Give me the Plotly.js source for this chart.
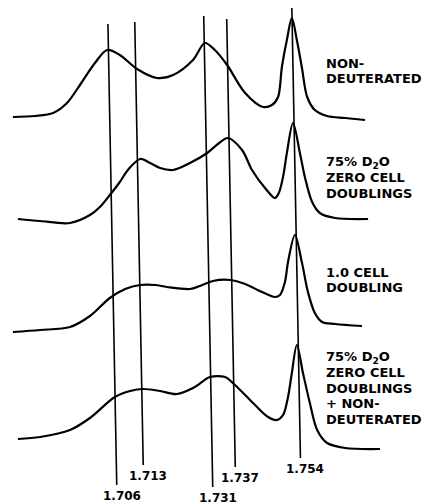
<!DOCTYPE html>
<html>
<head>
<meta charset="utf-8">
<script src="https://cdn.plot.ly/plotly-3.0.1.min.js"></script>
<style>html,body{margin:0;padding:0;background:#fff;}#chart{width:430px;height:504px;}</style>
</head>
<body>
<div id="chart"></div>
<script>
// Buoyant density (g/cm3) profiles, absorbance in arbitrary units (stacked)
var nonDeutX = [1.6812,1.6870,1.6917,1.6953,1.6987,1.7026,1.7058,1.7091,1.7136,1.7188,1.7230,1.7282,1.7313,1.7339,1.7371,1.7418,1.7465,1.7488,1.7504,1.7514,1.7527,1.7540,1.7553,1.7566,1.7580,1.7600,1.7632,1.7679,1.7731];
var nonDeutY = [387,388,391,401,419,441,454,449,435,426,429,444,461,454,439,411,397,399,407,437,464,486,464,437,407,394,388,386,384];

var zeroDoubX = [1.6825,1.6883,1.6961,1.7013,1.7039,1.7065,1.7091,1.7112,1.7144,1.7170,1.7196,1.7230,1.7274,1.7319,1.7347,1.7373,1.7410,1.7436,1.7470,1.7496,1.7506,1.7517,1.7527,1.7543,1.7561,1.7574,1.7593,1.7613,1.7653,1.7739];
var zeroDoubY = [285,283,281,289,297,309,322,334,345,341,336,334,341,351,360,366,354,334,316,306,311,327,351,381,351,327,302,291,286,285];

var oneDoubX = [1.6812,1.6883,1.6961,1.7013,1.7065,1.7105,1.7144,1.7183,1.7214,1.7274,1.7300,1.7334,1.7379,1.7418,1.7462,1.7496,1.7509,1.7522,1.7530,1.7548,1.7566,1.7582,1.7600,1.7619,1.7653,1.7723];
var oneDoubY = [172,174,177,188,206,215,219,219,217,215,218,223,224,220,212,207,209,222,242,269,242,212,191,182,180,178];

var mixX = [1.6825,1.6883,1.6961,1.7013,1.7078,1.7118,1.7152,1.7196,1.7240,1.7287,1.7326,1.7366,1.7386,1.7418,1.7444,1.7478,1.7501,1.7517,1.7530,1.7540,1.7553,1.7569,1.7587,1.7606,1.7632,1.7679,1.7770];
var mixY = [65,67,74,86,107,113,115,113,110,117,127,127,121,109,99,87,84,89,107,131,159,131,101,74,61,56,55];

// Reference density markers
var markerDensities = [1.706, 1.713, 1.731, 1.737, 1.754];
var markerLabels = ["1.706", "1.713", "1.731", "1.737", "1.754"];
var markerTop = [480, 482, 488, 485, 496];
var markerBottom = [19, 39, 17, 37, 46];

// Curve labels
var curveLabels = [
  ["NON-", "DEUTERATED"],
  ["75% D<sub>2</sub>O", "ZERO CELL", "DOUBLINGS"],
  ["1.0 CELL", "DOUBLING"],
  ["75% D<sub>2</sub>O", "ZERO CELL", "DOUBLINGS", "+ NON-", "DEUTERATED"]
];
var curveLabelY = [441, 342, 232, 147];
var curveLabelX = 1.7624;

var skew = 0.0023; // scan tilt of the drawing
var lineSpacing = 15.5;

var traces = [];
var curves = [[nonDeutX, nonDeutY], [zeroDoubX, zeroDoubY], [oneDoubX, oneDoubY], [mixX, mixY]];
curves.forEach(function (c) {
  traces.push({
    x: c[0], y: c[1], type: 'scatter', mode: 'lines',
    line: {color: '#000', width: 2.2, shape: 'spline', smoothing: 0.9},
    hoverinfo: 'skip'
  });
});
markerDensities.forEach(function (d, i) {
  traces.push({
    x: [d, d + skew * (markerTop[i] - markerBottom[i]) / 461],
    y: [markerTop[i], markerBottom[i]],
    type: 'scatter', mode: 'lines',
    line: {color: '#000', width: 1.6},
    hoverinfo: 'skip'
  });
});

var annotations = [];
markerDensities.forEach(function (d, i) {
  annotations.push({
    x: d + skew * (markerTop[i] - markerBottom[i]) / 461, y: markerBottom[i],
    xref: 'x', yref: 'y', text: markerLabels[i], showarrow: false,
    xanchor: 'center', yanchor: 'top', xshift: 5, yshift: -2,
    font: {family: 'DejaVu Sans', size: 12, color: '#000', weight: 'bold'}
  });
});
curveLabels.forEach(function (lines, k) {
  lines.forEach(function (t, j) {
    annotations.push({
      x: curveLabelX, y: curveLabelY[k], xref: 'x', yref: 'y',
      text: t, showarrow: false, xanchor: 'left', yanchor: 'middle',
      yshift: -lineSpacing * j,
      font: {family: 'DejaVu Sans', size: 13, color: '#000', weight: 'bold'}
    });
  });
});

var layout = {
  width: 430, height: 504,
  margin: {l: 0, r: 0, t: 0, b: 0},
  paper_bgcolor: '#fff', plot_bgcolor: '#fff',
  showlegend: false,
  xaxis: {range: [1.677827, 1.790057], visible: false, fixedrange: true},
  yaxis: {range: [0, 504], visible: false, fixedrange: true},
  annotations: annotations
};

Plotly.newPlot('chart', traces, layout, {displayModeBar: false, staticPlot: true});
</script>
</body>
</html>
